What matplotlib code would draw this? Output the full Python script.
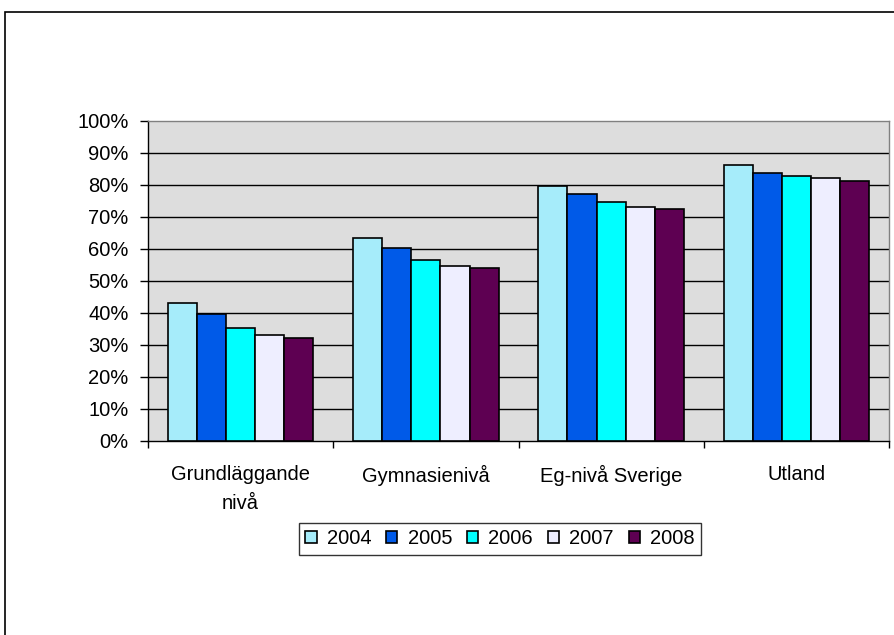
import matplotlib
matplotlib.use("Agg")
import matplotlib.pyplot as plt
import numpy as np
from matplotlib.patches import Rectangle

plt.rcParams['font.family'] = ['Liberation Sans', 'DejaVu Sans']

categories = ["Grundläggande\nnivå", "Gymnasienivå", "Eg-nivå Sverige", "Utland"]
years = ["2004", "2005", "2006", "2007", "2008"]
v2004 = [43.0, 63.5, 79.8, 86.1]
v2005 = [39.8, 60.4, 77.3, 83.7]
v2006 = [35.4, 56.6, 74.8, 82.9]
v2007 = [33.0, 54.8, 73.0, 82.2]
v2008 = [32.3, 54.2, 72.4, 81.1]
series = [v2004, v2005, v2006, v2007, v2008]
colors = ["#A6ECFA", "#005AE8", "#00FFFF", "#EEEEFF", "#5E0052"]
yticks = [0, 10, 20, 30, 40, 50, 60, 70, 80, 90, 100]
ytick_labels = [f"{t}%" for t in yticks]

FS = 14.5

fig = plt.figure(figsize=(8.94, 6.35), dpi=100)
fig.patch.set_facecolor("white")

# outer chart border
fig.patches.append(Rectangle((5/894, -0.1), 1.2, (635-12)/635 + 0.1,
                             transform=fig.transFigure, fill=False,
                             edgecolor="black", linewidth=1.2))

ax = fig.add_axes([148/894, 1-441/635, (889-148)/894, (441-121)/635])
ax.set_facecolor("#DDDDDD")

x = np.arange(len(categories))
w = 0.157
for i, (vals, c, yr) in enumerate(zip(series, colors, years)):
    ax.bar(x + (i-2)*w, vals, width=w, color=c, edgecolor="black",
           linewidth=1.2, label=yr, zorder=3)

ax.set_ylim(0, 100)
ax.set_xlim(-0.5, 3.5)
ax.set_yticks(yticks)
ax.set_yticklabels(ytick_labels, fontsize=FS)
for t in yticks[1:-1]:
    ax.axhline(t, color="black", linewidth=1, zorder=1)

ax.set_xticks(np.arange(-0.5, 4.0, 1.0), minor=False)
ax.set_xticklabels([])
ax.set_xticks(x, minor=True)
ax.set_xticklabels(categories, minor=True, fontsize=FS, linespacing=1.7)
ax.tick_params(axis="x", which="minor", length=0, pad=17)
ax.tick_params(axis="x", which="major", length=5, width=1, direction="out")
ax.tick_params(axis="y", length=6, width=1, direction="out", pad=8)

for s in ["top", "right"]:
    ax.spines[s].set_color("#808080")
    ax.spines[s].set_linewidth(1)
for s in ["left", "bottom"]:
    ax.spines[s].set_color("black")
    ax.spines[s].set_linewidth(1)

leg = fig.legend(loc="center", bbox_to_anchor=(500/894, 1-539/635),
                 ncol=5, fontsize=FS, frameon=True, fancybox=False,
                 edgecolor="black", handlelength=0.55, handleheight=0.55,
                 handletextpad=0.5, columnspacing=0.75, borderpad=0.3,
                 borderaxespad=0)
leg.get_frame().set_linewidth(1)

fig.savefig("out.png", dpi=100)
